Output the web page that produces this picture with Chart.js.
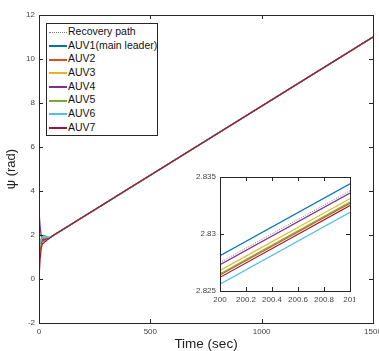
<!DOCTYPE html>
<html>
<head>
<meta charset="utf-8">
<title>Heading angle</title>
<script src="https://cdn.jsdelivr.net/npm/chart.js"></script>
<style>
  body { margin: 0; background: #fff; overflow: hidden; }
  #wrap { position: relative; width: 379px; height: 351px; }
  #main { position: absolute; left: 0; top: 0; }
  #inset { position: absolute; left: 185px; top: 170px; }
  #legend {
    position: absolute; left: 46px; top: 23px; width: 110px; height: 110px;
    border: 1px solid #262626; background: #fff; padding-top: 1px;
    font: 10.5px "Liberation Sans", Arial, sans-serif; color: #111;
  }
  #legend div { height: 13.7px; line-height: 13.7px; white-space: nowrap; }
  #legend span { display: inline-block; width: 18px; height: 2px; margin: 0 1px 0 2px; vertical-align: middle; }
</style>
</head>
<body>
<div id="wrap">
  <canvas id="main" width="379" height="351"></canvas>
  <canvas id="inset" width="170" height="140"></canvas>
  <div id="legend"></div>
</div>
<script>
// series names / colours
const names = ['AUV1(main leader)', 'AUV2', 'AUV3', 'AUV4', 'AUV5', 'AUV6', 'AUV7'];
const colors = ['#0072BD', '#D95319', '#EDB120', '#7E2F8E', '#77AC30', '#4DBEEE', '#A2142F'];

// main plot: time (sec) and heading psi (rad)
const times = [0, 5, 10, 15, 20, 25, 30, 40, 50, 60, 1500];
const auv1 = [1.60, 1.62, 1.68, 1.75, 1.82, 1.86, 1.87, 1.86, 1.89, 1.95, 11.0];
const auv2 = [0.80, 1.30, 1.55, 1.70, 1.78, 1.82, 1.84, 1.85, 1.89, 1.95, 11.0];
const auv3 = [2.15, 2.05, 1.95, 1.90, 1.88, 1.88, 1.88, 1.87, 1.89, 1.95, 11.0];
const auv4 = [3.10, 2.40, 1.95, 1.80, 1.76, 1.78, 1.80, 1.84, 1.89, 1.95, 11.0];
const auv5 = [1.20, 1.60, 1.85, 1.95, 1.98, 1.97, 1.95, 1.91, 1.90, 1.95, 11.0];
const auv6 = [1.55, 1.65, 1.80, 1.90, 1.93, 1.92, 1.90, 1.88, 1.89, 1.95, 11.0];
const auv7 = [0.00, 0.90, 1.40, 1.60, 1.62, 1.68, 1.72, 1.80, 1.87, 1.95, 11.0];
const recTimes = [0, 1500];
const recovery = [1.573, 11.0];

// inset: zoom on t = 200..201
const zoomTimes = [200, 201];
const zAuv1 = [2.8281, 2.8344];
const zAuv2 = [2.8264, 2.8327];
const zAuv3 = [2.8268, 2.8331];
const zAuv4 = [2.8273, 2.8336];
const zAuv5 = [2.8265, 2.8328];
const zAuv6 = [2.8256, 2.8319];
const zAuv7 = [2.8262, 2.8325];
const zRecovery = [2.8275, 2.8338];

// tick labels
const xTicks = [0, 500, 1000, 1500];
const yTicks = [-2, 0, 2, 4, 6, 8, 10, 12];
const zxTicks = [200, 200.2, 200.4, 200.6, 200.8, 201];
const zyTicks = [2.825, 2.83, 2.835];

Chart.defaults.font.family = '"Liberation Sans", Arial, sans-serif';
Chart.defaults.font.size = 8;
Chart.defaults.color = '#444';

const pts = (xs, ys) => xs.map((x, i) => ({x, y: ys[i]}));

function makeSets(xs, series, recX, rec) {
  const sets = series.map((s, i) => ({
    label: names[i], data: pts(xs, s), borderColor: colors[i],
    borderWidth: 1.2, pointRadius: 0, tension: 0, order: 7 - i
  }));
  sets.unshift({
    label: 'Recovery path', data: pts(recX, rec), borderColor: '#777',
    borderWidth: 1, borderDash: [1, 1.5], pointRadius: 0, order: 8
  });
  return sets;
}

// white axes background, box and inward ticks like matlab
const boxTicks = {
  id: 'boxTicks',
  beforeDatasetsDraw(chart) {
    const {ctx, chartArea: a} = chart;
    ctx.save();
    ctx.fillStyle = '#fff';
    ctx.fillRect(a.left, a.top, a.right - a.left, a.bottom - a.top);
    ctx.restore();
  },
  afterDraw(chart) {
    const {ctx, chartArea: a, scales: {x, y}} = chart;
    ctx.save();
    ctx.strokeStyle = '#262626';
    ctx.lineWidth = 1;
    ctx.beginPath();
    x.ticks.forEach(t => {
      const px = Math.round(x.getPixelForValue(t.value)) + 0.5;
      ctx.moveTo(px, a.bottom); ctx.lineTo(px, a.bottom - 4);
      ctx.moveTo(px, a.top); ctx.lineTo(px, a.top + 4);
    });
    y.ticks.forEach(t => {
      const py = Math.round(y.getPixelForValue(t.value)) + 0.5;
      ctx.moveTo(a.left, py); ctx.lineTo(a.left + 4, py);
      ctx.moveTo(a.right, py); ctx.lineTo(a.right - 4, py);
    });
    ctx.stroke();
    ctx.strokeRect(Math.round(a.left) + 0.5, Math.round(a.top) + 0.5,
      Math.round(a.right - a.left), Math.round(a.bottom - a.top));
    ctx.restore();
  }
};

function axis(min, max, tickList, size, title) {
  return {
    type: 'linear', min, max,
    grid: {display: false, drawTicks: false},
    border: {display: false},
    afterBuildTicks: s => { s.ticks = tickList.map(v => ({value: v})); },
    afterFit: s => {
      if (s.isHorizontal()) s.height = size; else s.width = size;
      s.paddingLeft = s.paddingRight = s.paddingTop = s.paddingBottom = 0;
    },
    ticks: {padding: 4, maxRotation: 0, autoSkip: false, callback: v => String(v)},
    title: title || {display: false}
  };
}

new Chart(document.getElementById('main'), {
  type: 'line',
  data: {datasets: makeSets(times, [auv1, auv2, auv3, auv4, auv5, auv6, auv7], recTimes, recovery)},
  options: {
    responsive: false, animation: false,
    layout: {padding: {left: 0, top: 15, right: 6, bottom: 0}},
    plugins: {legend: {display: false}, tooltip: {enabled: false}},
    scales: {
      x: axis(0, 1500, xTicks, 28, {display: true, text: 'Time (sec)', color: '#222',
        font: {size: 13.5, lineHeight: 1}, padding: {top: 0, bottom: 0}}),
      y: axis(-2, 12, yTicks, 39, {display: true, text: 'ψ (rad)', color: '#222',
        font: {size: 13, lineHeight: 1}, padding: {top: 5, bottom: 0}})
    }
  },
  plugins: [boxTicks]
});

new Chart(document.getElementById('inset'), {
  type: 'line',
  data: {datasets: makeSets(zoomTimes, [zAuv1, zAuv2, zAuv3, zAuv4, zAuv5, zAuv6, zAuv7], zoomTimes, zRecovery)},
  options: {
    responsive: false, animation: false,
    layout: {padding: {left: 0, top: 7, right: 5, bottom: 0}},
    plugins: {legend: {display: false}, tooltip: {enabled: false}},
    scales: {
      x: axis(200, 201, zxTicks, 19),
      y: axis(2.825, 2.835, zyTicks, 35)
    }
  },
  plugins: [boxTicks]
});

// legend box
const legend = document.getElementById('legend');
const rows = [['Recovery path', 'height:0;border-top:1px dotted #777']]
  .concat(names.map((n, i) => [n, 'background:' + colors[i]]));
rows.forEach(([text, style]) => {
  const row = document.createElement('div');
  const line = document.createElement('span');
  line.style.cssText = style;
  row.appendChild(line);
  row.appendChild(document.createTextNode(text));
  legend.appendChild(row);
});
</script>
</body>
</html>
